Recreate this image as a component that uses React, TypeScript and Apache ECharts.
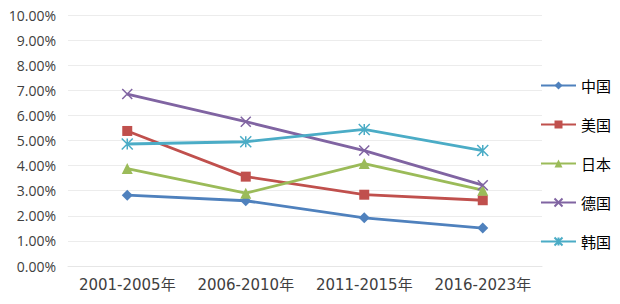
import React, { useEffect, useRef } from "react";
import * as echarts from "echarts";

const categories = ["2001-2005年", "2006-2010年", "2011-2015年", "2016-2023年"];
const seriesNames = ["中国", "美国", "日本", "德国", "韩国"];
const china = [2.82, 2.6, 1.92, 1.51];
const usa = [5.38, 3.56, 2.84, 2.62];
const japan = [3.88, 2.9, 4.08, 3.02];
const germany = [6.85, 5.75, 4.6, 3.22];
const korea = [4.86, 4.95, 5.44, 4.6];
const yTicks = { min: 0, max: 10, interval: 1 };

const colors = ["#4F81BD", "#C0504D", "#9BBB59", "#8064A2", "#4BACC6"];
const symbols = [
  "diamond",
  "rect",
  "triangle",
  "path://M0,0L10,10M10,0L0,10",
  "path://M0,0L10,10M10,0L0,10M5,0L5,10",
];
const symbolSizes = [11, 10, 11, 10, 11];

export default function App() {
  const ref = useRef<HTMLDivElement>(null);
  useEffect(() => {
    const chart = echarts.init(ref.current!, null, { renderer: "svg" });
    const data = [china, usa, japan, germany, korea];
    chart.setOption({
      animation: false,
      backgroundColor: "#ffffff",
      grid: { left: 68, right: 78, top: 15, bottom: 38, containLabel: false },
      legend: {
        orient: "vertical",
        left: 535,
        top: 73,
        itemWidth: 35,
        itemHeight: 10,
        itemGap: 24,
        textStyle: { fontSize: 15, color: "#000", fontFamily: "Noto Sans CJK SC" },
        data: seriesNames,
      },
      xAxis: {
        type: "category",
        data: categories,
        boundaryGap: true,
        axisLine: { show: true, lineStyle: { color: "#e6e6e6", width: 1 } },
        axisTick: { show: false },
        axisLabel: {
          color: "#404040",
          fontSize: 15,
          fontFamily: "DejaVu Sans, Noto Sans CJK SC",
          margin: 11,
          interval: 0,
        },
      },
      yAxis: {
        type: "value",
        min: yTicks.min,
        max: yTicks.max,
        interval: yTicks.interval,
        axisLine: { show: false },
        axisTick: { show: false },
        splitLine: { show: true, lineStyle: { color: "#ececec", width: 1 } },
        axisLabel: {
          color: "#404040",
          fontSize: 14,
          fontFamily: "Open Sans",
          margin: 12,
          formatter: (v: number) => v.toFixed(2) + "%",
        },
      },
      series: seriesNames.map((name, i) => ({
        name,
        type: "line",
        data: data[i],
        symbol: symbols[i],
        symbolSize: symbolSizes[i],
        showSymbol: true,
        lineStyle: { color: colors[i], width: 2.8 },
        itemStyle: {
          color: colors[i],
          borderColor: colors[i],
          borderWidth: i >= 3 ? 1.5 : 0,
        },
      })),
    });
    return () => chart.dispose();
  }, []);
  return (
    <div
      ref={ref}
      style={{ position: "fixed", left: 0, top: 0, width: 620, height: 304 }}
    />
  );
}
